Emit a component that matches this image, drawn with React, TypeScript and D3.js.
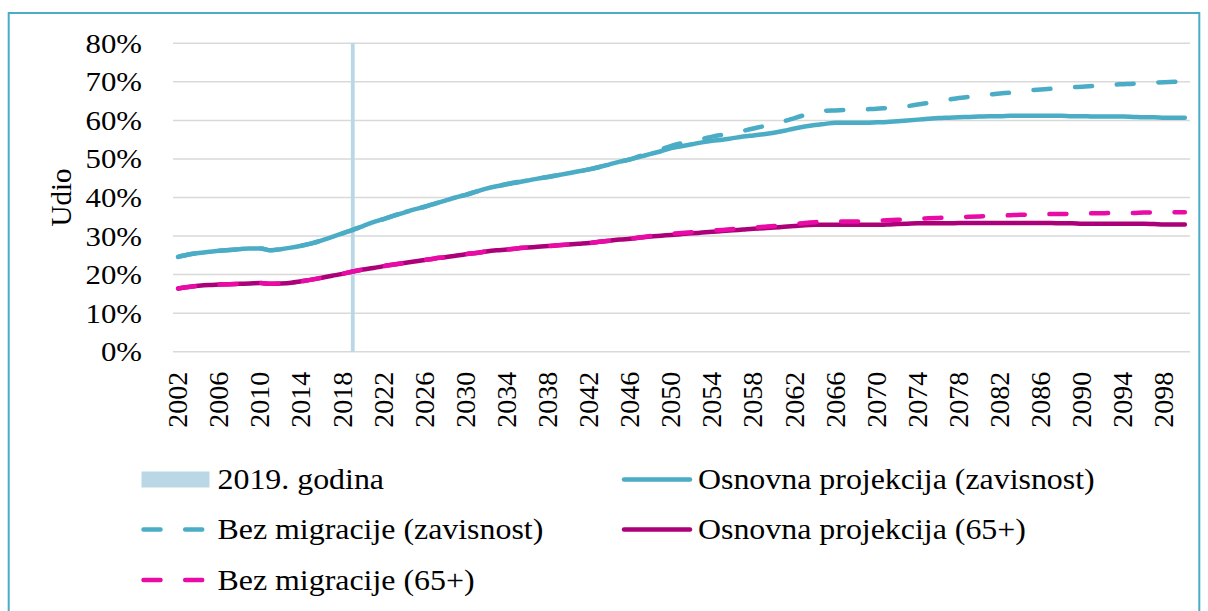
import React, { useEffect, useRef } from 'react';
import * as d3 from 'd3';

const years: number[] = d3.range(2002, 2101);

// Osnovna projekcija (zavisnost), % po godini 2002-2100
const baseDependency: number[] = [
  24.6, 25.2, 25.6, 25.9, 26.2, 26.4, 26.6, 26.8, 26.8, 26.3,
  26.6, 27.0, 27.5, 28.1, 28.9, 29.8, 30.7, 31.6, 32.6, 33.6,
  34.4, 35.3, 36.1, 36.9, 37.6, 38.4, 39.2, 40.0, 40.7, 41.5,
  42.3, 42.9, 43.4, 43.9, 44.4, 44.9, 45.3, 45.8, 46.3, 46.8,
  47.3, 47.9, 48.6, 49.3, 49.9, 50.6, 51.3, 52.0, 52.8, 53.3,
  53.8, 54.3, 54.7, 55.0, 55.4, 55.8, 56.1, 56.4, 56.8, 57.3,
  57.9, 58.4, 58.8, 59.1, 59.4, 59.4, 59.4, 59.4, 59.5, 59.6,
  59.8, 60.0, 60.2, 60.4, 60.6, 60.7, 60.8, 60.9, 61.0, 61.1,
  61.1, 61.2, 61.2, 61.2, 61.2, 61.2, 61.2, 61.1, 61.1, 61.0,
  61.0, 61.0, 61.0, 60.9, 60.8, 60.8, 60.7, 60.7, 60.7,
];

// Bez migracije (zavisnost)
const noMigrationDependency: number[] = [
  24.6, 25.2, 25.6, 25.9, 26.2, 26.4, 26.6, 26.8, 26.8, 26.3,
  26.6, 27.0, 27.5, 28.1, 28.9, 29.8, 30.7, 31.6, 32.6, 33.6,
  34.4, 35.3, 36.1, 36.9, 37.6, 38.4, 39.2, 40.0, 40.7, 41.5,
  42.3, 42.9, 43.5, 44.0, 44.4, 44.9, 45.3, 45.8, 46.3, 46.8,
  47.3, 47.9, 48.6, 49.3, 49.9, 50.8, 51.6, 52.5, 53.4, 54.1,
  54.7, 55.2, 55.8, 56.3, 56.8, 57.3, 57.9, 58.5, 59.1, 59.8,
  60.6, 61.4, 62.1, 62.5, 62.6, 62.7, 62.8, 62.9, 63.0, 63.2,
  63.4, 63.7, 64.1, 64.5, 65.0, 65.4, 65.8, 66.1, 66.4, 66.7,
  67.0, 67.2, 67.5, 67.8, 68.0, 68.2, 68.4, 68.6, 68.7, 68.9,
  69.1, 69.3, 69.4, 69.5, 69.7, 69.8, 69.9, 70.0, 70.1,
];

// Osnovna projekcija (65+)
const base65: number[] = [
  16.4, 16.8, 17.1, 17.3, 17.4, 17.5, 17.6, 17.7, 17.8, 17.6,
  17.7, 17.9, 18.3, 18.7, 19.2, 19.7, 20.2, 20.8, 21.3, 21.7,
  22.2, 22.6, 23.0, 23.4, 23.8, 24.2, 24.5, 24.9, 25.3, 25.6,
  26.0, 26.3, 26.5, 26.8, 27.0, 27.2, 27.4, 27.6, 27.8, 28.0,
  28.2, 28.5, 28.8, 29.1, 29.3, 29.6, 29.9, 30.1, 30.3, 30.5,
  30.7, 30.9, 31.1, 31.3, 31.5, 31.7, 31.9, 32.0, 32.2, 32.4,
  32.6, 32.8, 32.9, 32.9, 32.9, 32.9, 32.9, 32.9, 32.9, 33.0,
  33.1, 33.2, 33.3, 33.3, 33.3, 33.3, 33.4, 33.4, 33.4, 33.4,
  33.4, 33.4, 33.4, 33.4, 33.4, 33.4, 33.3, 33.3, 33.2, 33.2,
  33.2, 33.2, 33.2, 33.2, 33.2, 33.1, 33.0, 33.0, 33.0,
];

// Bez migracije (65+)
const noMigration65: number[] = [
  16.4, 16.8, 17.1, 17.3, 17.4, 17.5, 17.6, 17.7, 17.8, 17.6,
  17.7, 17.9, 18.3, 18.7, 19.2, 19.7, 20.2, 20.8, 21.3, 21.7,
  22.2, 22.6, 23.0, 23.4, 23.8, 24.2, 24.5, 24.9, 25.3, 25.6,
  26.0, 26.3, 26.5, 26.8, 27.0, 27.2, 27.4, 27.6, 27.8, 28.0,
  28.2, 28.5, 28.8, 29.1, 29.3, 29.7, 30.0, 30.3, 30.6, 30.8,
  31.0, 31.2, 31.4, 31.6, 31.8, 32.0, 32.2, 32.4, 32.6, 32.9,
  33.1, 33.4, 33.6, 33.7, 33.7, 33.8, 33.8, 33.9, 34.0, 34.1,
  34.2, 34.3, 34.5, 34.6, 34.7, 34.8, 34.9, 35.0, 35.1, 35.2,
  35.3, 35.4, 35.5, 35.5, 35.6, 35.7, 35.7, 35.8, 35.8, 35.9,
  35.9, 36.0, 36.0, 36.0, 36.1, 36.1, 36.2, 36.2, 36.2,
];

const markerYear = 2019;
const yTicks: number[] = [0, 10, 20, 30, 40, 50, 60, 70, 80];
const xTickYears: number[] = d3.range(2002, 2100, 4);

const BLUE = '#4bacc6';
const MAGENTA = '#ab0078';
const PINK = '#ea0aa5';
const MARKER = '#b9d7e4';
const FONT = "'Liberation Serif', 'DejaVu Serif', serif";
const STRETCH = 1.1; // text in the picture is a bit wider than it is tall

const series = [
  { name: 'Osnovna projekcija (zavisnost)', values: baseDependency, color: BLUE, dashed: false },
  { name: 'Bez migracije (zavisnost)', values: noMigrationDependency, color: BLUE, dashed: true },
  { name: 'Osnovna projekcija (65+)', values: base65, color: MAGENTA, dashed: false },
  { name: 'Bez migracije (65+)', values: noMigration65, color: PINK, dashed: true },
];

const legendItems = [
  { name: '2019. godina', kind: 'bar', color: MARKER, dashed: false },
  { name: series[0].name, kind: 'line', color: series[0].color, dashed: false },
  { name: series[1].name, kind: 'line', color: series[1].color, dashed: true },
  { name: series[2].name, kind: 'line', color: series[2].color, dashed: false },
  { name: series[3].name, kind: 'line', color: series[3].color, dashed: true },
];

const W = 1208;
const H = 611;
const plot = { left: 173, right: 1190, top: 43.3, bottom: 351.7 };

export default function App() {
  const ref = useRef<SVGSVGElement | null>(null);

  useEffect(() => {
    const svg = d3.select(ref.current);
    svg.selectAll('*').remove();

    // outer frame
    svg.append('rect')
      .attr('x', 8.7).attr('y', 13)
      .attr('width', 1190.6).attr('height', 640)
      .attr('fill', '#fff')
      .attr('stroke', BLUE)
      .attr('stroke-width', 2);

    const x = d3.scaleBand<number>()
      .domain(years)
      .range([plot.left, plot.right])
      .padding(0);
    const cx = (yr: number) => (x(yr) as number) + x.bandwidth() / 2;

    const y = d3.scaleLinear()
      .domain([0, 80])
      .range([plot.bottom, plot.top]);

    // gridlines
    svg.append('g')
      .selectAll('line')
      .data(yTicks)
      .enter()
      .append('line')
      .attr('x1', plot.left)
      .attr('x2', plot.right)
      .attr('y1', d => y(d))
      .attr('y2', d => y(d))
      .attr('stroke', '#d9d9d9')
      .attr('stroke-width', 1.5);

    const g = svg.append('g').style('font-family', FONT).attr('fill', '#000');

    // y labels
    g.append('g')
      .selectAll('text')
      .data(yTicks)
      .enter()
      .append('text')
      .attr('transform', d => `translate(142,${y(d)}) scale(${STRETCH},1)`)
      .attr('dy', '0.34em')
      .attr('text-anchor', 'end')
      .attr('font-size', 28)
      .text(d => d + '%');

    g.append('text')
      .attr('transform', `translate(71,${(plot.top + plot.bottom) / 2}) rotate(-90)`)
      .attr('text-anchor', 'middle')
      .attr('font-size', 29)
      .text('Udio');

    // x labels
    g.append('g')
      .selectAll('text')
      .data(xTickYears)
      .enter()
      .append('text')
      .attr('transform', d => `translate(${cx(d) + 9},${plot.bottom + 20}) rotate(-90)`)
      .attr('text-anchor', 'end')
      .attr('font-size', 28)
      .text(d => String(d));

    // 2019 marker
    svg.append('line')
      .attr('x1', cx(markerYear)).attr('x2', cx(markerYear))
      .attr('y1', y(80)).attr('y2', y(0))
      .attr('stroke', MARKER)
      .attr('stroke-width', 3.8);

    const line = d3.line<number>()
      .x((_, i) => cx(years[i]))
      .y(d => y(d))
      .curve(d3.curveMonotoneX);

    series.forEach(s => {
      svg.append('path')
        .datum(s.values)
        .attr('d', line)
        .attr('fill', 'none')
        .attr('stroke', s.color)
        .attr('stroke-width', 4.5)
        .attr('stroke-linecap', 'round')
        .attr('stroke-linejoin', 'round')
        .attr('stroke-dasharray', s.dashed ? '17 24.7' : null);
    });

    // legend
    const cols = [141.5, 622];
    const rows = [479.5, 529.5, 580];
    legendItems.forEach((item, i) => {
      const lx = cols[i % 2];
      const ly = rows[Math.floor(i / 2)];
      if (item.kind === 'bar') {
        svg.append('rect')
          .attr('x', lx).attr('y', ly - 8)
          .attr('width', 68).attr('height', 16)
          .attr('fill', item.color);
      } else {
        svg.append('line')
          .attr('x1', lx + 2).attr('x2', lx + 68)
          .attr('y1', ly).attr('y2', ly)
          .attr('stroke', item.color)
          .attr('stroke-width', 4.5)
          .attr('stroke-linecap', 'round')
          .attr('stroke-dasharray', item.dashed ? '17 24.7' : null);
      }
      g.append('text')
        .attr('transform', `translate(${lx + 76},${ly}) scale(${STRETCH},1)`)
        .attr('dy', '0.34em')
        .attr('font-size', 29)
        .text(item.name);
    });
  }, []);

  return (
    <svg
      ref={ref}
      width={W}
      height={H}
      style={{ position: 'absolute', left: 0, top: 0, background: '#fff' }}
    />
  );
}
